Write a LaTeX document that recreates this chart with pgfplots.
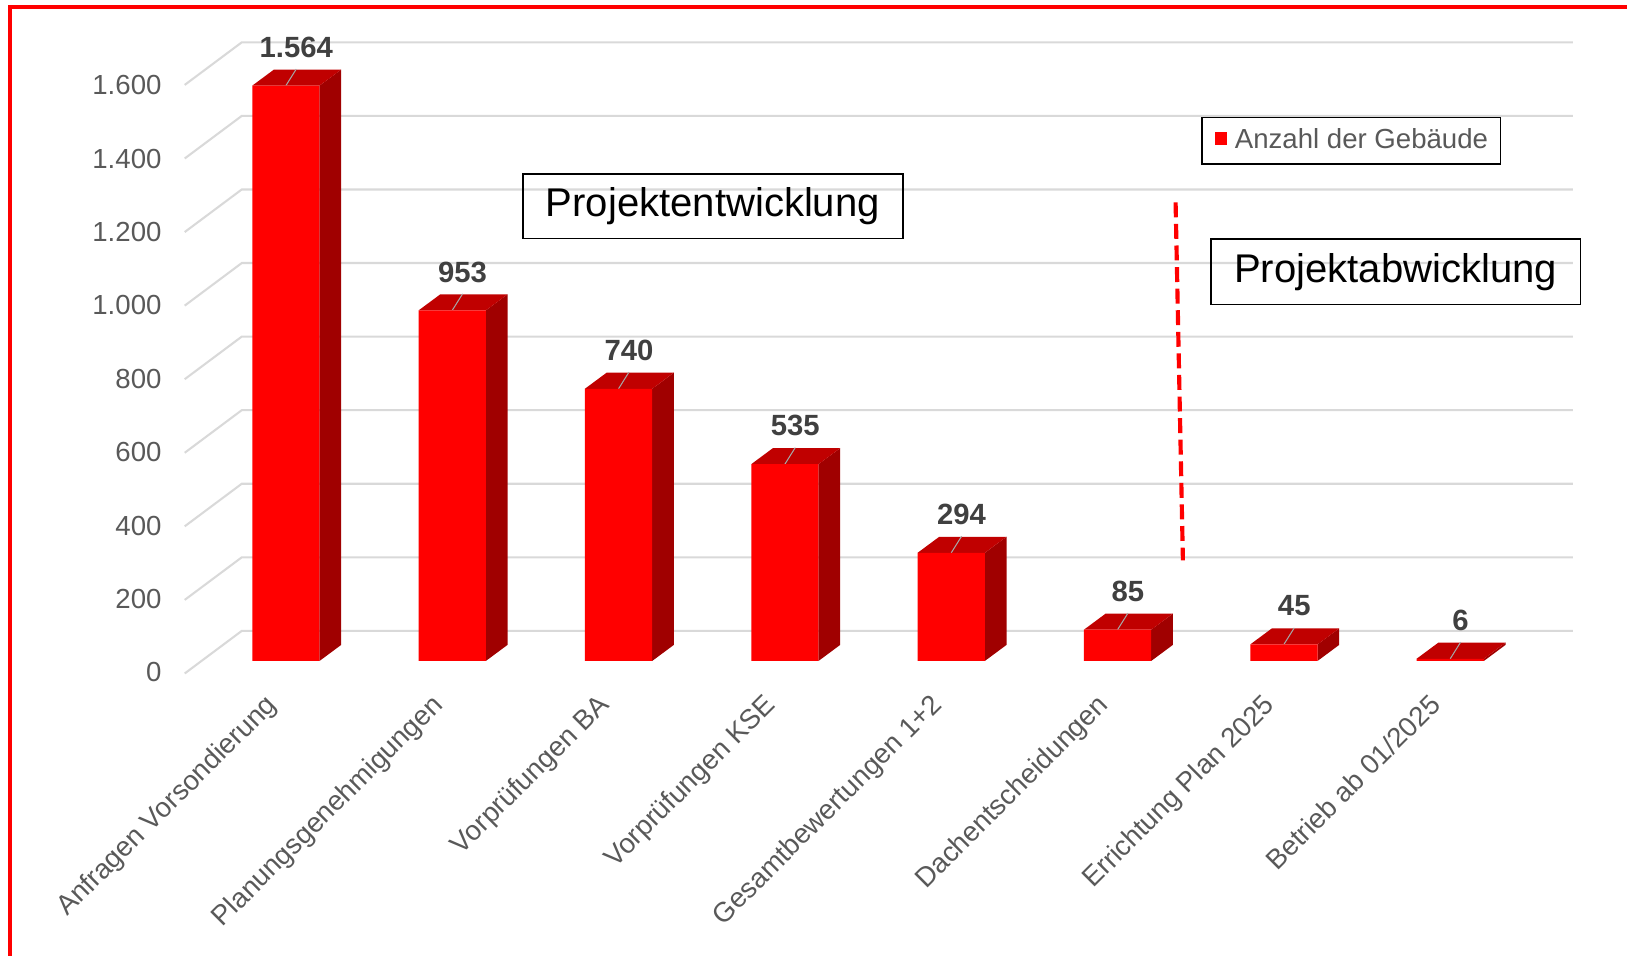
\documentclass[border=0pt]{standalone}
\usepackage{pgfplots}
\pgfplotsset{compat=1.18}
\usepackage{fontspec}
\setmainfont{Liberation Sans}
\definecolor{barred}{HTML}{FF0000}
\definecolor{topred}{HTML}{C00000}
\definecolor{sidered}{HTML}{A00000}
\definecolor{gridgray}{HTML}{D9D9D9}
\definecolor{tickgray}{HTML}{595959}
\definecolor{labelgray}{HTML}{404040}
\definecolor{leadergray}{HTML}{A6A6A6}
\newcommand\tickfont{\fontsize{13.3}{16}\selectfont}
\newcommand{\faces}[2]{%
  \pgfmathsetmacro\xl{#1-0.2021}%
  \pgfmathsetmacro\xr{#1+0.2021}%
  \pgfmathsetmacro\xlb{#1-0.2021+0.1304}%
  \pgfmathsetmacro\xrb{#1+0.2021+0.1304}%
  \pgfmathsetmacro\vt{#2+43.7}%
  \pgfmathsetmacro\xa{#1+0.0624}%
  \pgfmathsetmacro\va{#2+45}%
  \addplot[fill=sidered, draw=none, forget plot] coordinates {(\xr,0) (\xr,#2) (\xrb,\vt) (\xrb,43.7) (\xr,0)};
  \addplot[fill=topred, draw=none, forget plot] coordinates {(\xl,#2) (\xr,#2) (\xrb,\vt) (\xlb,\vt) (\xl,#2)};
  \addplot[leadergray, line width=0.5pt, forget plot] coordinates {(#1,#2) (\xa,\va)};
}
\begin{document}
\begin{tikzpicture}
\begin{axis}[
  x=80.15pt, y=0.17725pt,
  xmin=-0.6082, xmax=7.7377, ymin=-36, ymax=1700,
  enlargelimits=false, clip=false,
  axis line style={draw=none}, major tick length=0pt,
  xtick={0,...,7},
  xticklabels={Anfragen Vorsondierung, Planungsgenehmigungen, Vorprüfungen BA, Vorprüfungen KSE, Gesamtbewertungen 1+2, Dachentscheidungen, Errichtung Plan 2025, Betrieb ab 01/2025},
  xticklabel style={rotate=45, anchor=north east, inner sep=0pt, xshift=-13.5pt, yshift=1.6pt, font=\tickfont, text=tickgray},
  ytick={-31,169,368,568,767,967,1166,1365,1565},
  yticklabels={0,200,400,600,800,1.000,1.200,1.400,1.600},
  yticklabel style={anchor=east, inner sep=0pt, xshift=-11pt, font=\tickfont, text=tickgray},
  legend style={at={(axis cs:5.504,1480.1)}, anchor=north west, draw=black, line width=0.8pt,
    font=\tickfont, inner xsep=6pt, inner ysep=5.6pt, nodes={inner sep=0pt},
    /tikz/every odd column/.append style={column sep=3.75pt}},
]
% border and bounding box
\path (axis cs:-1.71865,-801.1) rectangle (axis cs:8.0630,1796.9);
\addplot[barred, line width=1.9pt, forget plot] coordinates {(-1.6576,-801.1) (-1.6576,1778.9) (8.0630,1778.9)};
% gridlines
\addplot[gridgray, line width=1pt, unbounded coords=jump, forget plot] coordinates {
(-0.6082,-34) (-0.2651,81.8) (7.7377,81.8) (0,nan)
(-0.6082,166) (-0.2651,281.8) (7.7377,281.8) (0,nan)
(-0.6082,366) (-0.2651,481.8) (7.7377,481.8) (0,nan)
(-0.6082,566) (-0.2651,681.8) (7.7377,681.8) (0,nan)
(-0.6082,766) (-0.2651,881.8) (7.7377,881.8) (0,nan)
(-0.6082,966) (-0.2651,1081.8) (7.7377,1081.8) (0,nan)
(-0.6082,1166) (-0.2651,1281.8) (7.7377,1281.8) (0,nan)
(-0.6082,1366) (-0.2651,1481.8) (7.7377,1481.8) (0,nan)
(-0.6082,1566) (-0.2651,1681.8) (7.7377,1681.8)
};
% 3D faces
\faces{0}{1564}
\faces{1}{953}
\faces{2}{740}
\faces{3}{535}
\faces{4}{294}
\faces{5}{85}
\faces{6}{45}
\faces{7}{6}
% front faces
\addplot[ybar, bar width=0.4042, bar shift=0pt, fill=barred, draw=none,
  legend image code/.code={\fill[barred] (0pt,-1.95pt) rectangle (6pt,4.05pt);},
  nodes near coords={\pgfmathprintnumber[1000 sep={.},assume math mode=true]{\pgfplotspointmeta}},
  every node near coord/.append style={anchor=center, xshift=5pt, yshift=18.5pt,
    font=\bfseries\fontsize{14.1}{16}\selectfont, text=labelgray}]
  coordinates {(0,1564) (1,953) (2,740) (3,535) (4,294) (5,85) (6,45) (7,6)};
\addlegendentry{\textcolor{tickgray}{Anzahl der Gebäude}}
% phase separator
\addplot[barred, line width=2pt, dash pattern=on 7.2pt off 3.2pt, forget plot] coordinates {(5.349,1246.8) (5.393,273.6)};
\node[draw=black, line width=0.8pt, minimum width=183pt, minimum height=31pt, inner sep=0pt,
  font=\fontsize{19.3}{22}\selectfont] at (axis cs:2.567,1235.5) {Projektentwicklung};
\node[draw=black, line width=0.8pt, minimum width=178pt, minimum height=31.5pt, inner sep=0pt,
  font=\fontsize{19.3}{22}\selectfont] at (axis cs:6.672,1057.8) {Projektabwicklung};
\end{axis}
\end{tikzpicture}
\end{document}
